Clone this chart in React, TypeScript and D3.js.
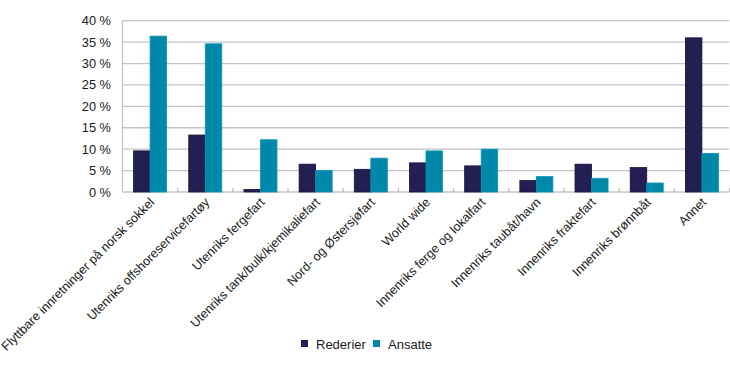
import * as d3 from "d3";

const categories = [
  "Flyttbare innretninger på norsk sokkel",
  "Utenriks offshoreservicefartøy",
  "Utenriks fergefart",
  "Utenriks tank/bulk/kjemikaliefart",
  "Nord- og Østersjøfart",
  "World wide",
  "Innenriks ferge og lokalfart",
  "Innenriks taubåt/havn",
  "Innenriks fraktefart",
  "Innenriks brønnbåt",
  "Annet",
];
const rederier = [9.6, 13.3, 0.6, 6.5, 5.3, 6.8, 6.1, 2.7, 6.5, 5.7, 36.0];
const ansatte = [36.4, 34.6, 12.2, 5.0, 7.9, 9.6, 10.0, 3.6, 3.2, 2.1, 9.0];
const yTicks = [0, 5, 10, 15, 20, 25, 30, 35, 40];
const seriesNames = ["Rederier", "Ansatte"];
const colors = ["#231f52", "#0088aa"];
const strokes = ["#16133b", "#0a95b5"];

export default function App() {
  const width = 730;
  const height = 372;
  const left = 122.5;
  const right = 729.5;
  const top = 20.7;
  const bottom = 192;
  const font = "'Liberation Sans', Arial, sans-serif";

  const x = d3.scaleBand().domain(categories).range([left, right]).paddingInner(0).paddingOuter(0);
  const inner = d3.scaleBand().domain(seriesNames).range([0, x.bandwidth()]).paddingOuter(0.67).paddingInner(0);
  const y = d3.scaleLinear().domain([0, 40]).range([bottom, top]);
  const series = [rederier, ansatte];

  return (
    <svg width={width} height={height} style={{ position: "absolute", left: 0, top: 0, background: "#fff" }} fontFamily={font}>
      {/* gridlines */}
      {yTicks.map((t) => (
        <line key={"g" + t} x1={left} x2={right} y1={y(t)} y2={y(t)} stroke="#c4c4c4" strokeWidth={1.3} />
      ))}
      <line x1={left} x2={left} y1={top} y2={bottom} stroke="#c4c4c4" strokeWidth={1.3} />
      {categories.map((c, i) => (
        <line key={"t" + i} x1={x(c)! + x.bandwidth()} x2={x(c)! + x.bandwidth()} y1={bottom - 4} y2={bottom} stroke="#b8b8b8" strokeWidth={1.2} />
      ))}
      {/* bars */}
      {categories.map((c, i) =>
        series.map((s, j) => (
          <rect
            key={c + j}
            x={x(c)! + inner(seriesNames[j])!}
            y={y(s[i])}
            width={inner.bandwidth()}
            height={bottom - y(s[i])}
            fill={colors[j]}
            stroke={strokes[j]}
            strokeWidth={0.8}
          />
        ))
      )}
      {/* y tick labels */}
      {yTicks.map((t) => (
        <text key={"yl" + t} x={111} y={y(t) + 4.5} textAnchor="end" fontSize={12.8} fill="#1a1a1a">
          {t + " %"}
        </text>
      ))}
      {/* x labels */}
      {categories.map((c) => {
        const cx = x(c)! + x.bandwidth() / 2 + 5;
        const cy = 203;
        return (
          <text key={"xl" + c} transform={`translate(${cx},${cy}) rotate(-45)`} textAnchor="end" fontSize={12.6} fill="#1a1a1a">
            {c}
          </text>
        );
      })}
      {/* legend */}
      {seriesNames.map((n, j) => (
        <g key={n} transform={`translate(${[301, 373][j]},340)`}>
          <rect x={0} y={0} width={7} height={7} fill={colors[j]} />
          <text x={15} y={8.5} fontSize={13} fill="#1a1a1a">{n}</text>
        </g>
      ))}
    </svg>
  );
}
